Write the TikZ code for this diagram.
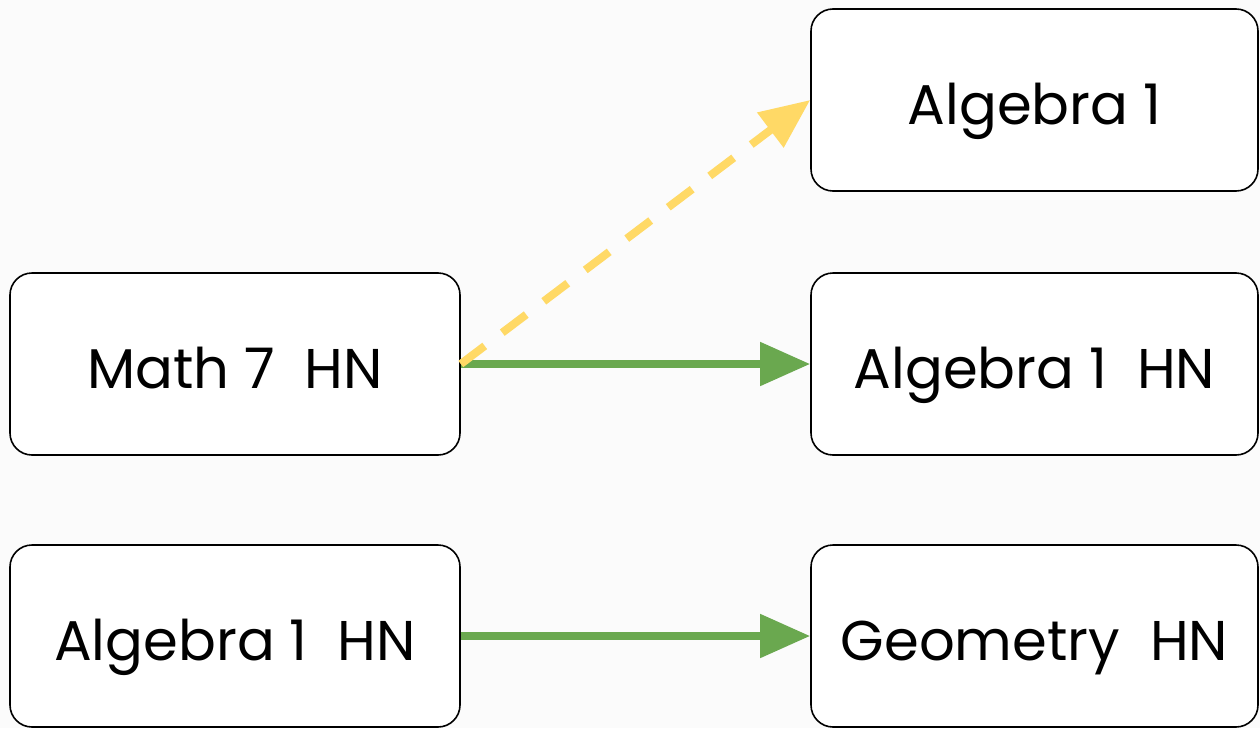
\documentclass[tikz,border=0pt]{standalone}
\usepackage{fontspec}
\setmainfont{Poppins}
\usetikzlibrary{arrows.meta}
\definecolor{bgc}{HTML}{FBFBFB}
\definecolor{grn}{HTML}{6AA84F}
\definecolor{ylw}{HTML}{FFD966}
\begin{document}
\begin{tikzpicture}[x=1pt,y=-1pt,
  course/.style={draw=black,line width=1.6pt,rounded corners=22pt,fill=white,
    minimum width=450pt,minimum height=182pt,inner sep=0pt,
    text height=48pt,text depth=0pt,
    font=\fontsize{56}{64}\selectfont},
  req/.style={draw=grn,line width=8pt,-{Triangle[length=50pt,width=42pt]}},
  opt/.style={draw=ylw,line width=8pt,dash pattern=on 30pt off 22pt,-{Triangle[length=50pt,width=42pt]}}]
\useasboundingbox[fill=bgc] (0,0) rectangle (1260,728);
\node[course] (m7) at (235,364) {Math 7\ \ HN};
\node[course] (a1l) at (235,636) {Algebra 1\ \ HN};
\node[course,minimum width=447pt] (a1) at (1034.5,100) {Algebra 1};
\node[course,minimum width=447pt] (a1h) at (1034.5,364) {Algebra 1\ \ HN};
\node[course,minimum width=447pt] (geo) at (1034.5,636) {Geometry\ \ HN};
\draw[req] (m7.east) -- (a1h.west);
\draw[req] (a1l.east) -- (geo.west);
\draw[opt] (m7.east) -- (a1.west);
\end{tikzpicture}
\end{document}
